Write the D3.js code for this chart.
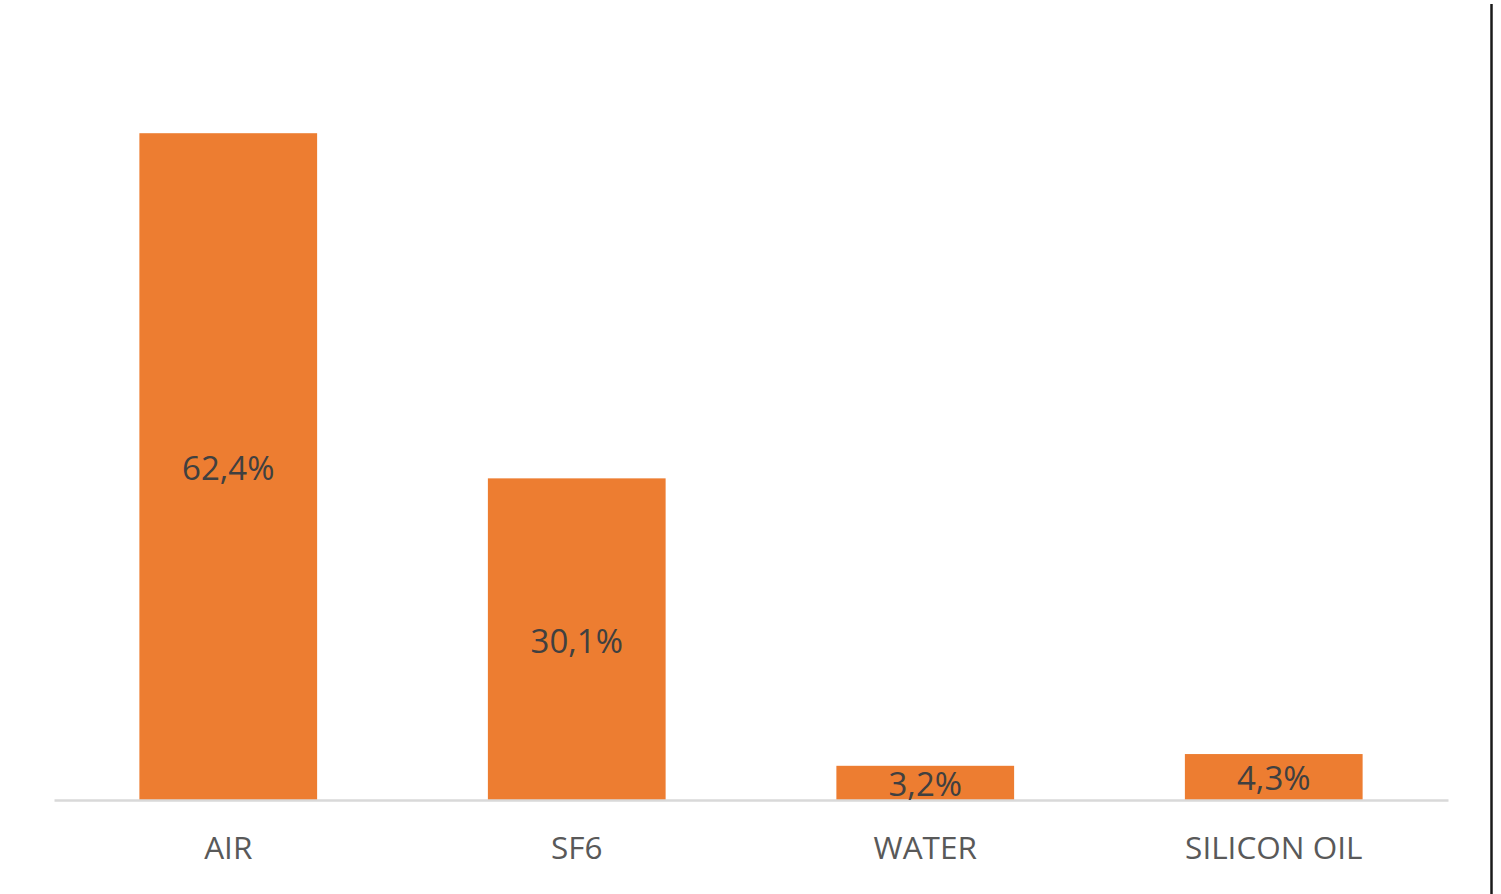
<!DOCTYPE html>
<html>
<head>
<meta charset="utf-8">
<script src="https://cdn.jsdelivr.net/npm/d3@7"></script>
<style>
  html, body { margin: 0; padding: 0; background: #ffffff; }
  svg { display: block; }
</style>
</head>
<body>
<svg id="chart" width="1501" height="894"></svg>
<script>
const categories = ["AIR", "SF6", "WATER", "SILICON OIL"];
const values = [62.4, 30.1, 3.2, 4.3];
const valueLabels = ["62,4%", "30,1%", "3,2%", "4,3%"];

const svg = d3.select("#chart");
const W = 1501, H = 894;

const x = d3.scaleBand()
  .domain(categories)
  .range([54, 1448])
  .paddingInner(0.49)
  .paddingOuter(0.245);

const y = d3.scaleLinear()
  .domain([0, 70])
  .range([800, 52]);

const data = categories.map((c, i) => ({ c, v: values[i], label: valueLabels[i] }));

// bars
svg.append("g").selectAll("rect")
  .data(data)
  .join("rect")
  .attr("x", d => x(d.c))
  .attr("y", d => y(d.v))
  .attr("width", x.bandwidth())
  .attr("height", d => y(0) - y(d.v))
  .attr("fill", "#ED7D31");

// baseline axis
const axis = d3.axisBottom(x).tickSize(0).tickPadding(37);
const gx = svg.append("g")
  .attr("transform", `translate(0,${y(0)})`)
  .call(axis);
gx.select(".domain").attr("stroke", "#d9d9d9").attr("stroke-width", 2.5);
gx.selectAll(".tick text")
  .attr("font-family", "'Open Sans', sans-serif")
  .attr("font-size", 31.5)
  .attr("fill", "#595959");

// data labels (center)
svg.append("g").selectAll("text")
  .data(data)
  .join("text")
  .attr("x", d => x(d.c) + x.bandwidth() / 2)
  .attr("y", d => (y(d.v) + y(0)) / 2 + 1.5)
  .attr("dy", "0.36em")
  .attr("text-anchor", "middle")
  .attr("font-family", "'Open Sans', sans-serif")
  .attr("font-size", 33)
  .attr("fill", "#404040")
  .text(d => d.label);

// right border line
svg.append("line")
  .attr("x1", 1491.5).attr("x2", 1491.5)
  .attr("y1", 4).attr("y2", H)
  .attr("stroke", "#1a1a1a")
  .attr("stroke-width", 2.5);
</script>
</body>
</html>
